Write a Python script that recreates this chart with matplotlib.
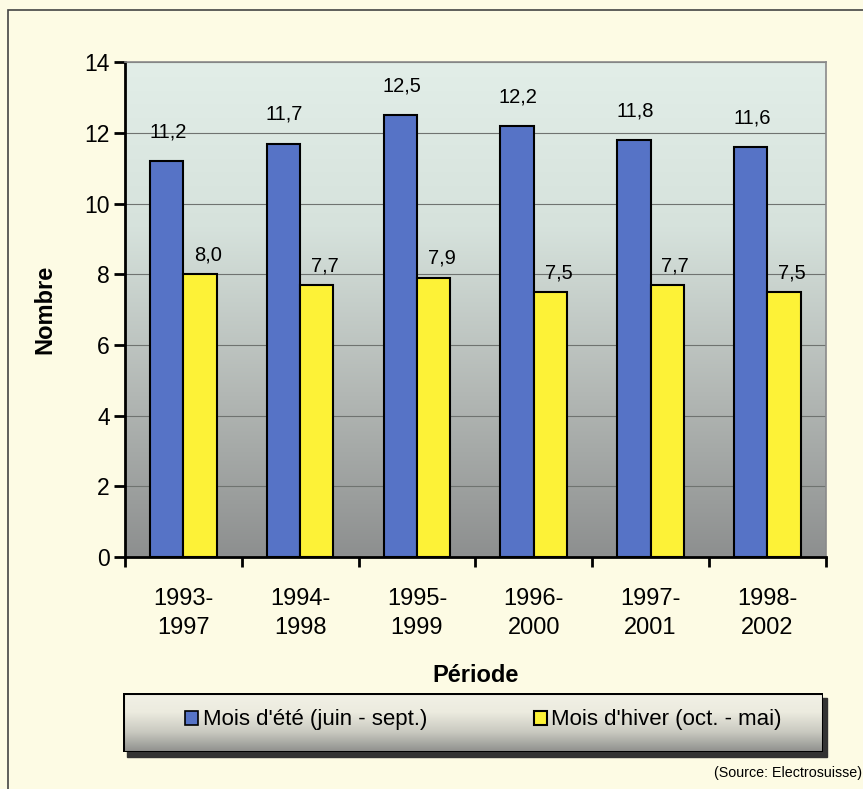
import numpy as np
import matplotlib
matplotlib.use('Agg')
import matplotlib.pyplot as plt
from matplotlib.patches import Rectangle, Patch
from matplotlib.colors import LinearSegmentedColormap

plt.rcParams['font.family'] = ['Liberation Sans', 'DejaVu Sans']

periodes = ['1993-\n1997', '1994-\n1998', '1995-\n1999', '1996-\n2000', '1997-\n2001', '1998-\n2002']
ete = [11.2, 11.7, 12.5, 12.2, 11.8, 11.6]
hiver = [8.0, 7.7, 7.9, 7.5, 7.7, 7.5]
noms = ["Mois d'été (juin - sept.)", "Mois d'hiver (oct. - mai)"]

bleu = '#5673c6'
jaune = '#fdf237'
fond = '#fdfbe4'

fig = plt.figure(figsize=(8.63, 7.89), dpi=100, facecolor=fond)

# cadre extérieur
fig.patches.append(Rectangle((0.009, -0.1), 1.2, 1.087, transform=fig.transFigure,
                             fill=False, edgecolor='#444444', lw=1.2))

ax = fig.add_axes([0.1448, 0.294, 0.812, 0.627])
grad = LinearSegmentedColormap.from_list('g', ['#8d8f8f', '#b3b8b5', '#d6e2dc', '#e2eee8'])
ax.imshow(np.linspace(0, 1, 256).reshape(-1, 1), cmap=grad, aspect='auto',
          extent=[0, 1, 0, 1], transform=ax.transAxes, origin='lower', zorder=0)

x = np.arange(len(periodes))
w = 0.285
b1 = ax.bar(x - w / 2, ete, w, color=bleu, edgecolor='black', lw=1.5, zorder=3)
b2 = ax.bar(x + w / 2, hiver, w, color=jaune, edgecolor='black', lw=1.5, zorder=3)

for i in range(len(x)):
    ax.annotate(f'{ete[i]:.1f}'.replace('.', ','), (x[i] - w / 2 + 0.01, ete[i]),
                xytext=(0, 21), textcoords='offset points', ha='center', va='center', fontsize=14.5)
    ax.annotate(f'{hiver[i]:.1f}'.replace('.', ','), (x[i] + w / 2 + 0.07, hiver[i]),
                xytext=(0, 14), textcoords='offset points', ha='center', va='center', fontsize=14.5)

ax.set_xlim(-0.5, len(x) - 0.5)
ax.set_ylim(0, 14)
ax.set_yticks(range(0, 15, 2))
ax.set_xticks(np.arange(len(x) + 1) - 0.5)
ax.set_xticklabels([])
ax.set_xticks(x, minor=True)
ax.set_xticklabels(periodes, minor=True, fontsize=17, linespacing=1.45)
ax.tick_params(axis='x', which='minor', length=0, pad=22)
ax.tick_params(axis='x', which='major', length=7, width=2, direction='out')
ax.tick_params(axis='y', length=8, width=2, direction='out', labelsize=16.5, pad=3)
ax.yaxis.grid(True, color='#6f7370', lw=0.8, zorder=1)
ax.set_axisbelow(True)
for s in ['top', 'right']:
    ax.spines[s].set_color('#8a8a8a')
    ax.spines[s].set_linewidth(1.2)
for s in ['left', 'bottom']:
    ax.spines[s].set_linewidth(2)
ax.set_ylabel('Nombre', fontsize=17, fontweight='bold', labelpad=20)
ax.set_xlabel('Période', fontsize=17, fontweight='bold', labelpad=18)

# boîte de légende avec dégradé
lg = fig.add_axes([0.1425, 0.047, 0.811, 0.075])
lg.patch.set_visible(False)
lg.add_patch(Rectangle((0.006, -0.09), 1, 1, transform=lg.transAxes, color='#333333', zorder=0, clip_on=False))
grad2 = LinearSegmentedColormap.from_list('g2', ['#8e8f8c', '#c9c9c0', '#ecebdf', '#f2f1e6'])
lg.imshow(np.linspace(0, 1, 256).reshape(-1, 1), cmap=grad2, aspect='auto',
          extent=[0, 1, 0, 1], transform=lg.transAxes, origin='lower', zorder=1)
lg.add_patch(Rectangle((0, 0), 1, 1, transform=lg.transAxes, fill=False, edgecolor='black', lw=2.2, zorder=2))
lg.set_xlim(0, 1)
lg.set_ylim(0, 1)
lg.axis('off')
handles = [Patch(facecolor=bleu, edgecolor='black', lw=1.2), Patch(facecolor=jaune, edgecolor='black', lw=1.5)]
leg = lg.legend(handles, noms, ncol=2, loc='center', frameon=False, fontsize=16,
                handlelength=0.6, handleheight=0.6, handletextpad=0.2, columnspacing=4.8,
                bbox_to_anchor=(0.515, 0.54))
leg.set_zorder(5)

fig.text(0.999, 0.012, '(Source: Electrosuisse)', ha='right', va='bottom', fontsize=10.3)

fig.savefig('out.png', dpi=100, facecolor=fond)
